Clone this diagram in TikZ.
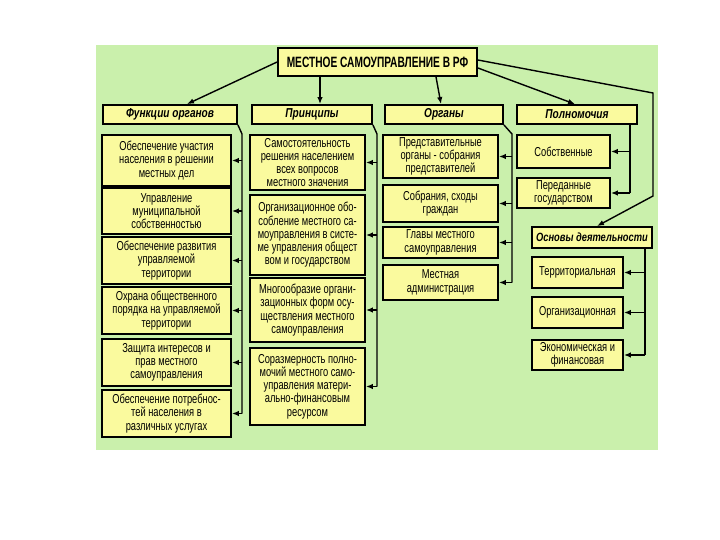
\documentclass[tikz,border=0pt]{standalone}
\usepackage{fontspec}
\setmainfont{Liberation Sans}[FakeStretch=0.78]
\newfontfamily\narrowfont{Liberation Sans}[FakeStretch=0.72]
\newfontfamily\titlefont{Liberation Sans}[FakeStretch=0.68]
\usetikzlibrary{arrows.meta,shadows}
\definecolor{bggreen}{RGB}{202,240,172}
\definecolor{boxyellow}{RGB}{250,250,158}
\tikzset{
  box/.style={draw=black, line width=1.8bp, fill=boxyellow, inner sep=1bp, align=center,
    font=\narrowfont\fontsize{13}{13.3}\selectfont,
    drop shadow={shadow xshift=1.4bp, shadow yshift=-1.4bp, fill=black, opacity=1}},
  head/.style={box, font=\fontsize{13}{13}\selectfont\bfseries\itshape, minimum height=19bp},
  funbox/.style={box, minimum width=129bp},
  prinbox/.style={box, minimum width=115bp},
  orgbox/.style={box, minimum width=115bp},
  polbox/.style={box, minimum width=93bp},
  osnbox/.style={box, minimum width=91bp},
  wire/.style={line width=1.4bp},
  arr/.style={wire, -{Latex[length=7bp,width=5.5bp]}},
}
\begin{document}
\begin{tikzpicture}[x=1bp, y=-1bp]
  \useasboundingbox (0,0) rectangle (720,540);
  \fill[bggreen] (96,45) rectangle (658,450);
  % title and headers
  \node[box, font=\titlefont\fontsize{15}{15}\selectfont\bfseries, minimum width=199bp, minimum height=28bp] (msu) at (377.5,62) {МЕСТНОЕ САМОУПРАВЛЕНИЕ В РФ};
  \node[head, minimum width=134bp] (funh) at (170,114.5) {Функции органов};
  \node[head, minimum width=120bp] (prinh) at (312,114.5) {Принципы};
  \node[head, minimum width=118bp] (orgh) at (444,114.5) {Органы};
  \node[head, minimum width=120bp] (polh) at (577,114.5) {Полномочия};
  % functions
  \node[funbox, minimum height=51bp] (fun1) at (166.5,160.5) {Обеспечение участия\\населения в решении\\местных дел};
  \node[funbox, minimum height=46bp] (fun2) at (166.5,211) {Управление\\муниципальной\\собственностью};
  \node[funbox, minimum height=47bp] (fun3) at (166.5,260.5) {Обеспечение развития\\управляемой\\территории};
  \node[funbox, minimum height=47bp] (fun4) at (166.5,310.5) {Охрана общественного\\порядка на управляемой\\территории};
  \node[funbox, minimum height=47bp] (fun5) at (166.5,362.5) {Защита интересов и\\прав местного\\самоуправления};
  \node[funbox, minimum height=47bp] (fun6) at (166.5,413.5) {Обеспечение потребнос-\\тей населения в\\различных услугах};
  % principles
  \node[prinbox, minimum height=55bp] (prin1) at (307.5,162.5) {Самостоятельность\\решения населением\\всех вопросов\\местного значения};
  \node[prinbox, minimum height=80bp] (prin2) at (307.5,235) {Организационное обо-\\собление местного са-\\моуправления в систе-\\ме управления общест\\вом и государством};
  \node[prinbox, minimum height=64bp] (prin3) at (307.5,310) {Многообразие органи-\\зационных форм осу-\\ществления местного\\самоуправления};
  \node[prinbox, minimum height=77bp] (prin4) at (307.5,386.5) {Соразмерность полно-\\мочий местного само-\\управления матери-\\ально-финансовым\\ресурсом};
  % bodies
  \node[orgbox, minimum height=43bp] (org1) at (440.5,156.5) {Представительные\\органы - собрания\\представителей};
  \node[orgbox, minimum height=37bp] (org2) at (440.5,203.5) {Собрания, сходы\\граждан};
  \node[orgbox, minimum height=31bp] (org3) at (440.5,242.5) {Главы местного\\самоуправления};
  \node[orgbox, minimum height=35bp] (org4) at (440.5,282.5) {Местная\\администрация};
  % powers
  \node[polbox, minimum height=33bp] (pol1) at (563.5,151.5) {Собственные};
  \node[polbox, minimum height=30bp] (pol2) at (563.5,193) {Переданные\\государством};
  % foundations
  \node[head, font=\fontsize{12}{12}\selectfont\bfseries\itshape, minimum width=120bp, minimum height=21bp] (osn) at (592,237.5) {Основы деятельности};
  \node[osnbox, minimum height=31bp] (osn1) at (577.5,272.5) {Территориальная};
  \node[osnbox, minimum height=31bp] (osn2) at (577.5,312.5) {Организационная};
  \node[osnbox, minimum height=30bp] (osn3) at (577.5,355) {Экономическая и\\финансовая};
  % arrows from the title
  \draw[arr] (msu.west) -- ([xshift=17bp]funh.north);
  \draw[arr] ([xshift=8bp]prinh.north |- msu.south) -- ([xshift=8bp]prinh.north);
  \draw[arr] ([xshift=-8bp]orgh.north |- msu.south) -- ([xshift=-3bp]orgh.north);
  \draw[arr] ([yshift=-6bp]msu.east) -- ([xshift=-2bp]polh.north);
  \coordinate (c1) at (653,93);
  \coordinate (c2) at (653,196);
  \draw[arr] ([yshift=2bp]msu.east) -- (c1) -- (c2) -- ([xshift=5bp]osn.north);
  % buses
  \coordinate (b1) at (242,134);
  \draw[wire] (funh.south east) -- (b1) -- (b1 |- fun6.east);
  \foreach \i in {1,...,6} \draw[arr] (b1 |- fun\i.east) -- (fun\i.east);
  \coordinate (b2) at (377,134);
  \draw[wire] (prinh.south east) -- (b2) -- (b2 |- prin4.east);
  \foreach \i in {1,...,4} \draw[arr] (b2 |- prin\i.east) -- (prin\i.east);
  \coordinate (b3) at (512,134);
  \draw[wire] (orgh.south east) -- (b3) -- (b3 |- org4.east);
  \foreach \i in {1,...,4} \draw[arr] (b3 |- org\i.east) -- (org\i.east);
  \coordinate (b4) at (630,130);
  \draw[wire] (b4 |- polh.south) -- (b4 |- pol2.east);
  \foreach \i in {1,2} \draw[arr] (b4 |- pol\i.east) -- (pol\i.east);
  \coordinate (b5) at (645,250);
  \draw[wire] (b5 |- osn.south) -- (b5 |- osn3.east);
  \foreach \i in {1,...,3} \draw[arr] (b5 |- osn\i.east) -- (osn\i.east);
\end{tikzpicture}
\end{document}
